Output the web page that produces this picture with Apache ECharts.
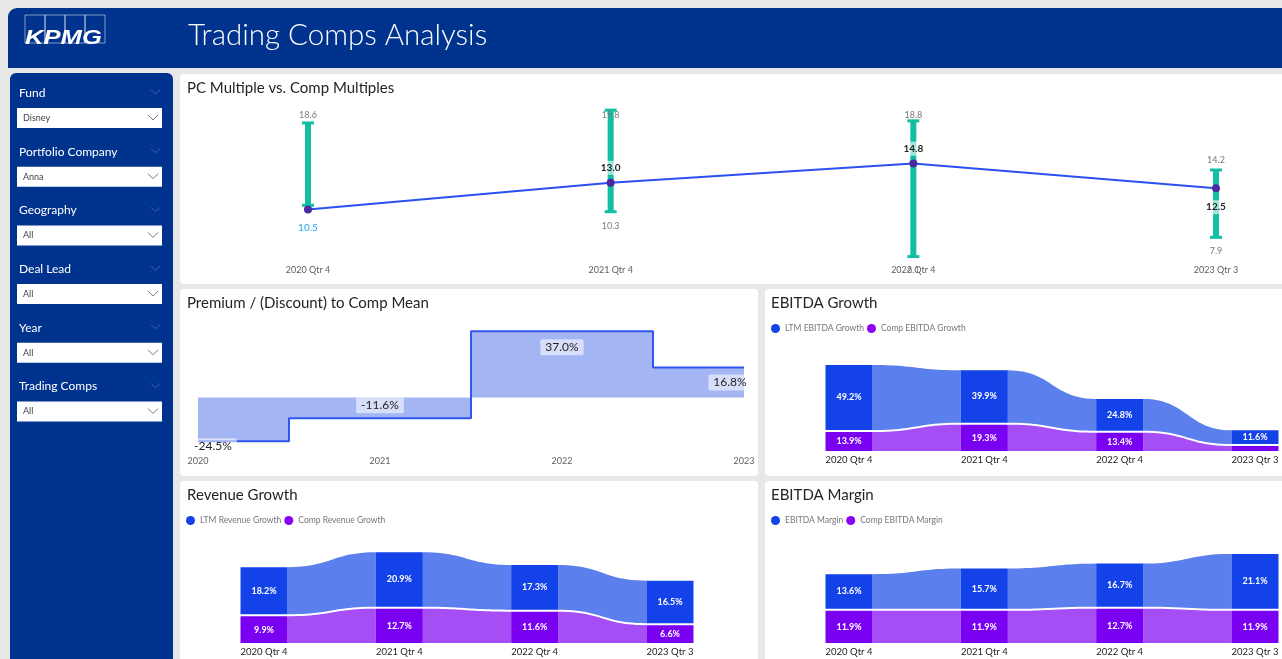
<!DOCTYPE html>
<html><head><meta charset="utf-8">
<script src="https://cdn.jsdelivr.net/npm/echarts@6/dist/echarts.min.js"></script>
<style>html,body{margin:0;padding:0;background:#e8e8e8;overflow:hidden}#c{width:1282px;height:659px}</style>
</head><body><div id="c"></div>
<script>
// ---------- data ----------
const quarters = ['2020 Qtr 4', '2021 Qtr 4', '2022 Qtr 4', '2023 Qtr 3'];
const pcMultiple = [10.5, 13.0, 14.8, 12.5];
const compHigh = [18.6, 19.8, 18.8, 14.2];
const compLow = [10.9, 10.3, 6.1, 7.9];
const showLowLabel = [false, true, true, true];
const years = ['2020', '2021', '2022', '2023'];
const premium = [-24.5, -11.6, 37.0, 16.8];
const ltmEbitdaGrowth = [49.2, 39.9, 24.8, 11.6];
const compEbitdaGrowth = [13.9, 19.3, 13.4, 3.6];
const ltmRevenueGrowth = [18.2, 20.9, 17.3, 16.5];
const compRevenueGrowth = [9.9, 12.7, 11.6, 6.6];
const ebitdaMargin = [13.6, 15.7, 16.7, 21.1];
const compEbitdaMargin = [11.9, 11.9, 12.7, 11.9];
const filterLabels = ['Fund', 'Portfolio Company', 'Geography', 'Deal Lead', 'Year', 'Trading Comps'];
const filterValues = ['Disney', 'Anna', 'All', 'All', 'All', 'All'];

// ---------- styles ----------
const FONT = 'Lato, "Open Sans", sans-serif';
const NAVY = '#00338d';
const BAR_BLUE = '#1242e8', RIB_BLUE = '#5b7fec';
const BAR_PURPLE = '#7a00f2', RIB_PURPLE = '#a64ef5';
const TEAL = '#12bfa3';

const chart = echarts.init(document.getElementById('c'), null, {renderer: 'canvas'});

// ---------- chrome (header, sidebar, panels) ----------
const graphics = [];
graphics.push({type: 'rect', z: 0, shape: {x: 8, y: 8, width: 1290, height: 60, r: [9, 0, 0, 0]}, style: {fill: NAVY}});
for (let k = 0; k < 4; k++) {
  graphics.push({type: 'rect', z: 1, shape: {x: 25 + k * 20, y: 15, width: 20, height: 28}, style: {fill: 'none', stroke: 'rgba(255,255,255,0.5)', lineWidth: 1}});
}
graphics.push({type: 'text', z: 2, x: 25, y: 38.5, scaleX: 1.28, originX: 0, originY: 0,
  style: {text: 'KPMG', fill: '#fff', font: 'italic bold 20px "Liberation Sans", Arial, sans-serif', verticalAlign: 'middle'}});
graphics.push({type: 'text', z: 2, x: 188, y: 35, style: {text: 'Trading Comps Analysis', fill: '#fff', font: '300 29.5px ' + FONT, verticalAlign: 'middle'}});

graphics.push({type: 'rect', z: 0, shape: {x: 10, y: 73, width: 163, height: 600, r: 6}, style: {fill: NAVY}});
filterLabels.forEach((lab, k) => {
  const ly = 93 + k * 58.7;
  const by = ly + 15;
  graphics.push({type: 'text', z: 2, x: 19, y: ly, style: {text: lab, fill: '#fff', font: '12px ' + FONT, verticalAlign: 'middle'}});
  graphics.push({type: 'polyline', z: 2, shape: {points: [[151, ly - 3], [155.5, ly + 1], [160, ly - 3]]}, style: {stroke: '#3f5fae', lineWidth: 1, fill: 'none'}});
  graphics.push({type: 'rect', z: 1, shape: {x: 17, y: by, width: 145, height: 20}, style: {fill: '#fff'}});
  graphics.push({type: 'text', z: 2, x: 23, y: by + 10, style: {text: filterValues[k], fill: '#444', font: '9px ' + FONT, verticalAlign: 'middle'}});
  graphics.push({type: 'polyline', z: 2, shape: {points: [[148, by + 7], [153, by + 12], [158, by + 7]]}, style: {stroke: '#777', lineWidth: 1, fill: 'none'}});
});

const panels = [[180, 74, 1110, 210], [180, 289, 578, 187], [765, 289, 530, 187], [180, 481, 578, 190], [765, 481, 530, 190]];
panels.forEach(p => graphics.push({type: 'rect', z: 0, shape: {x: p[0], y: p[1], width: p[2], height: p[3], r: 4}, style: {fill: '#fff'}}));
const titles = [['PC Multiple vs. Comp Multiples', 187, 88], ['Premium / (Discount) to Comp Mean', 187, 303], ['EBITDA Growth', 771, 303], ['Revenue Growth', 187, 495], ['EBITDA Margin', 771, 495]];
titles.forEach(t => graphics.push({type: 'text', z: 2, x: t[1], y: t[2], style: {text: t[0], fill: '#252423', font: '15px ' + FONT, verticalAlign: 'middle'}}));

// ---------- custom renderers ----------
function renderRange(params, api) {
  const i = api.value(0), lo = api.value(1), hi = api.value(2);
  const a = api.coord([i, lo]), b = api.coord([i, hi]);
  const x = a[0];
  const ch = [
    {type: 'rect', shape: {x: x - 3, y: b[1], width: 6, height: a[1] - b[1]}, style: {fill: TEAL}},
    {type: 'rect', shape: {x: x - 6, y: b[1] - 1.5, width: 12, height: 3}, style: {fill: TEAL}},
    {type: 'rect', shape: {x: x - 6, y: a[1] - 1.5, width: 12, height: 3}, style: {fill: TEAL}},
    {type: 'text', x: x, y: Math.max(b[1] - 10, 115), style: {text: hi.toFixed(1), fill: '#7a7a7a', font: '9px ' + FONT, align: 'center', verticalAlign: 'middle'}}
  ];
  if (showLowLabel[i]) ch.push({type: 'text', x: x, y: a[1] + 14, style: {text: lo.toFixed(1), fill: '#7a7a7a', font: '9px ' + FONT, align: 'center', verticalAlign: 'middle'}});
  return {type: 'group', children: ch};
}

function sCurve(x0, y0, x1, y1) {
  const pts = [], xm = (x0 + x1) / 2, n = 24;
  for (let s = 0; s <= n; s++) {
    const t = s / n, u = 1 - t;
    const x = u * u * u * x0 + 3 * u * u * t * xm + 3 * u * t * t * xm + t * t * t * x1;
    const y = u * u * u * y0 + 3 * u * u * t * y0 + 3 * u * t * t * y1 + t * t * t * y1;
    pts.push([x, y]);
  }
  return pts;
}

function makeRibbon(barColor, ribColor) {
  return function (params, api) {
    const i = api.value(0), lo = api.value(1), h = api.value(2), loN = api.value(3), hN = api.value(4);
    const W = 47, G = lo > 0 ? 2 : 0;
    const p0 = api.coord([i, lo]), p1 = api.coord([i, lo + h]);
    const x = p0[0], yb = p0[1] - G, yt = p1[1];
    const ch = [];
    if (!isNaN(hN)) {
      const GN = loN > 0 ? 2 : 0;
      const q0 = api.coord([i + 1, loN]), q1 = api.coord([i + 1, loN + hN]);
      const xa = x + W / 2, xb = q0[0] - W / 2;
      const pts = sCurve(xa, yt, xb, q1[1]).concat(sCurve(xb, q0[1] - GN, xa, yb));
      ch.push({type: 'polygon', shape: {points: pts}, style: {fill: ribColor}});
    }
    ch.push({type: 'rect', shape: {x: x - W / 2, y: yt, width: W, height: yb - yt}, style: {fill: barColor}});
    if (yb - yt > 12) ch.push({type: 'text', x: x, y: (yt + yb) / 2, style: {text: h.toFixed(1) + '%', fill: '#fff', font: 'bold 9px ' + FONT, align: 'center', verticalAlign: 'middle'}});
    return {type: 'group', children: ch};
  };
}

function ribbonData(base, vals) {
  return vals.map((v, i) => [i, base ? base[i] : 0, v, i + 1 < vals.length ? (base ? base[i + 1] : 0) : NaN, i + 1 < vals.length ? vals[i + 1] : NaN]);
}

function ribbonPair(gi, ltmName, compName, ltm, comp) {
  return [
    {type: 'custom', name: compName, xAxisIndex: gi, yAxisIndex: gi, renderItem: makeRibbon(BAR_PURPLE, RIB_PURPLE), itemStyle: {color: '#8a00f5'}, encode: {x: 0, y: 2}, data: ribbonData(null, comp), z: 3},
    {type: 'custom', name: ltmName, xAxisIndex: gi, yAxisIndex: gi, renderItem: makeRibbon(BAR_BLUE, RIB_BLUE), itemStyle: {color: BAR_BLUE}, encode: {x: 0, y: 2}, data: ribbonData(comp, ltm), z: 3}
  ];
}

function catAxis(gi, cats, color, size, margin) {
  return {type: 'category', gridIndex: gi, data: cats, boundaryGap: false, axisLine: {show: false}, axisTick: {show: false},
    axisLabel: {color: color, fontSize: size, fontFamily: FONT, margin: margin, interval: 0}, splitLine: {show: false}};
}
function valAxis(gi, min, max) {
  return {type: 'value', gridIndex: gi, min: min, max: max, show: false, splitLine: {show: false}};
}
const legendText = {color: '#777', fontSize: 8.5, fontFamily: FONT};

const pcLabelPos = ['bottom', 'top', 'top', 'bottom'];
const pcLabelDist = [7, 4, 4, 8];
const premOffsets = [[15, 5], [0, -13], [0, 16], [-14, 15]];

const option = {
  animation: false,
  backgroundColor: '#e8e8e8',
  graphic: {elements: graphics},
  grid: [
    {left: 308, right: 66, top: 108, height: 155},
    {left: 198, right: 538, top: 326, height: 125},
    {left: 849, right: 27, top: 355.6, height: 95.4},
    {left: 264, right: 612, top: 535, height: 108},
    {left: 849, right: 27, top: 535, height: 108}
  ],
  xAxis: [
    catAxis(0, quarters, '#605e5c', 9, 3),
    catAxis(1, years, '#605e5c', 9, 6),
    catAxis(2, quarters, '#252423', 9.5, 4),
    catAxis(3, quarters, '#252423', 9.5, 4),
    catAxis(4, quarters, '#252423', 9.5, 4)
  ],
  yAxis: [valAxis(0, 5.5, 20), valAxis(1, -30, 40), valAxis(2, 0, 70), valAxis(3, 0, 40), valAxis(4, 0, 40)],
  legend: [
    {left: 771, top: 324, icon: 'circle', itemWidth: 9, itemHeight: 9, itemGap: 3, padding: 0, textStyle: legendText, data: ['LTM EBITDA Growth', 'Comp EBITDA Growth']},
    {left: 186, top: 516, icon: 'circle', itemWidth: 9, itemHeight: 9, itemGap: 3, padding: 0, textStyle: legendText, data: ['LTM Revenue Growth', 'Comp Revenue Growth']},
    {left: 771, top: 516, icon: 'circle', itemWidth: 9, itemHeight: 9, itemGap: 3, padding: 0, textStyle: legendText, data: ['EBITDA Margin', 'Comp EBITDA Margin']}
  ],
  series: [
    {type: 'custom', name: 'Comp Range', xAxisIndex: 0, yAxisIndex: 0, renderItem: renderRange, encode: {x: 0, y: [1, 2]},
      data: quarters.map((q, i) => [i, compLow[i], compHigh[i]]), z: 3},
    {type: 'line', name: 'PC Multiple', xAxisIndex: 0, yAxisIndex: 0, z: 5,
      lineStyle: {color: '#2b4ff0', width: 2}, symbol: 'circle', symbolSize: 8, itemStyle: {color: '#4a2aa0'},
      data: pcMultiple.map((v, i) => ({value: v, label: {
        show: true, position: pcLabelPos[i], distance: pcLabelDist[i],
        color: i === 0 ? '#2aa6f2' : '#252423', fontWeight: i === 0 ? 'normal' : 'bold', fontSize: 10, fontFamily: FONT,
        backgroundColor: i === 0 ? 'transparent' : 'rgba(255,255,255,0.6)', padding: [2, 2],
        formatter: (p) => p.value.toFixed(1)}}))},
    {type: 'line', name: 'Premium', xAxisIndex: 1, yAxisIndex: 1, step: 'middle', z: 4,
      lineStyle: {color: '#2f56f0', width: 2}, areaStyle: {color: '#a4b5f4', opacity: 1},
      symbol: 'circle', symbolSize: 0, itemStyle: {color: '#2f56f0'},
      data: premium.map((v, i) => ({value: v, label: {
        show: true, position: 'inside', offset: premOffsets[i], color: '#252423', fontSize: 12, fontFamily: FONT,
        backgroundColor: 'rgba(255,255,255,0.55)', padding: [2, 5], borderRadius: 2,
        formatter: (p) => p.value.toFixed(1) + '%'}}))}
  ]
    .concat(ribbonPair(2, 'LTM EBITDA Growth', 'Comp EBITDA Growth', ltmEbitdaGrowth, compEbitdaGrowth))
    .concat(ribbonPair(3, 'LTM Revenue Growth', 'Comp Revenue Growth', ltmRevenueGrowth, compRevenueGrowth))
    .concat(ribbonPair(4, 'EBITDA Margin', 'Comp EBITDA Margin', ebitdaMargin, compEbitdaMargin))
};
chart.setOption(option);
</script>
</body></html>
